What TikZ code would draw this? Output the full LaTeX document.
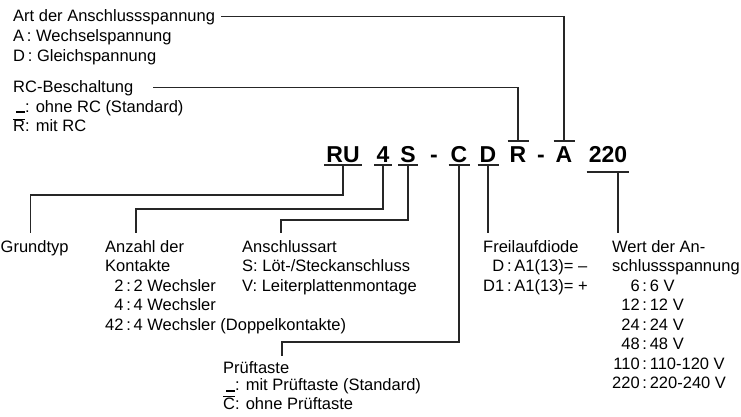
\documentclass[tikz,border=0pt]{standalone}
\usepackage{fontspec}
\setmainfont{Liberation Sans}
\newcommand{\ovl}[1]{\ensuremath{\overline{\mbox{#1}}}}
\newcommand{\stdbar}{\rule[-1pt]{9pt}{1.6pt}}
\tikzset{
code/.style = {font=\fontsize{23}{23}\selectfont\bfseries, anchor=base,
               inner xsep=2pt, inner ysep=3pt, text height=18pt, text depth=0pt},
lbl/.style = {font=\fontsize{16.5}{19.5}\selectfont, anchor=base west, inner sep=0pt}
}
\tikzset{
wire/.style = {line width=1.8pt, color=black!85},
thinwire/.style = {line width=1.1pt, color=black!85}
}

\begin{document}
\begin{tikzpicture}[x=1pt, y=-1pt]
    \useasboundingbox (0,0) rectangle (741,416);
    % type code
    \node[code] (ru) at (343,162) {RU};
    \node[code] (n4) at (383,162) {4};
    \node[code] (s) at (408,162) {S};
    \node[code] (dashA) at (434,162) {-};
    \node[code] (c) at (459,162) {C};
    \node[code] (d) at (488,162) {D};
    \node[code] (r) at (518,162) {R};
    \node[code] (dashB) at (541,162) {-};
    \node[code] (a) at (564,162) {A};
    \node[code] (v220) at (608,162) {220};

    % upper labels
    \node[lbl] (artT) at (13,21) {Art der Anschlussspannung};
    \node[lbl] (artO) at (13,41.5) {\begin{tabular}[t]{@{}l@{}}A\,: Wechselspannung\\ D\,: Gleichspannung\end{tabular}};
    \node[lbl] (rcT) at (13,92) {RC-Beschaltung};
    \node[lbl] (rcO) at (13,112) {\begin{tabular}[t]{@{}r@{: }l@{}}\stdbar & ohne RC (Standard)\\ \ovl{R} & mit RC\end{tabular}};

    % lower labels
    \node[lbl] (grund) at (0.5,252) {\begin{tabular}[t]{@{}l@{}}Grundtyp\end{tabular}};
    \node[lbl] (anz) at (105,252) {\begin{tabular}[t]{@{}r@{\,:\,}l@{}}\multicolumn{2}{@{}l@{}}{Anzahl der}\\ \multicolumn{2}{@{}l@{}}{Kontakte}\\ 2 & 2 Wechsler\\ 4 & 4 Wechsler\\ 42 & 4 Wechsler (Doppelkontakte)\end{tabular}};
    \node[lbl] (anschl) at (242,252) {\begin{tabular}[t]{@{}l@{}}Anschlussart\\ S: Löt-/Steckanschluss\\ V: Leiterplattenmontage\end{tabular}};
    \node[lbl, font=\fontsize{16.5}{17.5}\selectfont] (pruef) at (223,373) {\begin{tabular}[t]{@{}r@{: }l@{}}\multicolumn{2}{@{}l@{}}{Prüftaste}\\ \stdbar & mit Prüftaste (Standard)\\ \ovl{C} & ohne Prüftaste\end{tabular}};
    \node[lbl] (frei) at (483,252) {\begin{tabular}[t]{@{}r@{\,:\,}l@{}}\multicolumn{2}{@{}l@{}}{Freilaufdiode}\\ D & A1(13)= --\\ D1 & A1(13)= +\end{tabular}};
    \node[lbl] (wert) at (612,252) {\begin{tabular}[t]{@{}r@{\,:\,}l@{}}\multicolumn{2}{@{}l@{}}{Wert der An-}\\ \multicolumn{2}{@{}l@{}}{schlussspannung}\\ 6 & 6 V\\ 12 & 12 V\\ 24 & 24 V\\ 48 & 48 V\\ 110 & 110-120 V\\ 220 & 220-240 V\end{tabular}};

    % bars on the code letters
    \foreach \n in {ru,n4,s,c,d}
        \draw[wire] (\n.south west) -- (\n.south east);
    \foreach \n in {r,a}
        \draw[wire] (\n.north west) -- (\n.north east);
    \draw[wire] ([yshift=-7pt]v220.south west) -- ([yshift=-7pt]v220.south east);
    \coordinate (tap) at ([xshift=10pt,yshift=-7pt]v220.south);

    % connectors
    \draw[thinwire, shorten >=19pt] (r.north) |- (rcT.east);
    \draw[thinwire, shorten >=6pt] (a.north) |- (artT.east);
    \draw[wire, shorten >=5pt] (ru.south) -- ++(0,30) -| ([xshift=30pt]grund.north west);
    \draw[wire, shorten >=5pt] (n4.south) -- ++(0,44) -| ([xshift=31pt]anz.north west);
    \draw[wire, shorten >=5pt] (s.south) -- ++(0,55) -| ([xshift=39pt]anschl.north west);
    \draw[wire, shorten >=5pt] (c.south) -- ++(0,177) -| ([xshift=59pt]pruef.north west);
    \draw[wire, shorten >=5pt] (d.south) -- (d.south |- frei.north);
    \draw[wire, shorten >=5pt] (tap) -- (tap |- wert.north);
\end{tikzpicture}
\end{document}
